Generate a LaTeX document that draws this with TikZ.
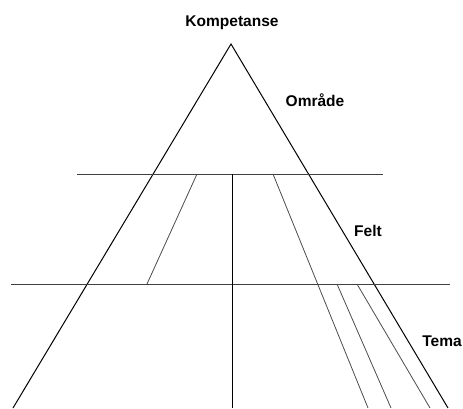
\documentclass[tikz,border=0pt]{standalone}
\usepackage{fontspec}
\setmainfont{Liberation Sans}
\begin{document}
\begin{tikzpicture}[x=1pt,y=-1pt,
  mainline/.style={black,line width=1pt},
  hline/.style={black!75,line width=1pt},
  thin/.style={black!70,line width=0.8pt},
  lbl/.style={font=\bfseries\fontsize{15.5}{18}\selectfont,inner sep=0pt}]
\useasboundingbox (0,0) rectangle (463,409);
% triangle
\coordinate (apex) at (231,44);
\coordinate (bl) at (13,408);
\coordinate (br) at (448,408);
\draw[mainline] (bl) -- (apex) -- (br);
% horizontals
\coordinate (h1l) at (77,174);
\coordinate (h1r) at (383,174);
\coordinate (h2l) at (11,284);
\coordinate (h2r) at (450,284);
\draw[hline] (h1l) -- (h1r);
\draw[hline] (h2l) -- (h2r);
% center vertical
\coordinate (ct) at (232,174);
\coordinate (cb) at (232,408);
\draw[mainline] (ct) -- (cb);
% left inner
\coordinate (l1t) at (197,174);
\coordinate (l1b) at (147,284);
\draw[thin] (l1t) -- (l1b);
% right inner
\coordinate (r1t) at (273,174);
\coordinate (r1b) at (368,408);
\draw[thin] (r1t) -- (r1b);
\coordinate (r2t) at (337,284);
\coordinate (r2b) at (391,408);
\draw[thin] (r2t) -- (r2b);
\coordinate (r3t) at (357,284);
\coordinate (r3b) at (430,408);
\draw[thin] (r3t) -- (r3b);
% labels
\node[lbl] (komp) at (232,23) {Kompetanse};
\node[lbl] (omr) at (315,100) {Område};
\node[lbl] (felt) at (368,231) {Felt};
\node[lbl] (tema) at (442,341) {Tema};
\end{tikzpicture}
\end{document}
